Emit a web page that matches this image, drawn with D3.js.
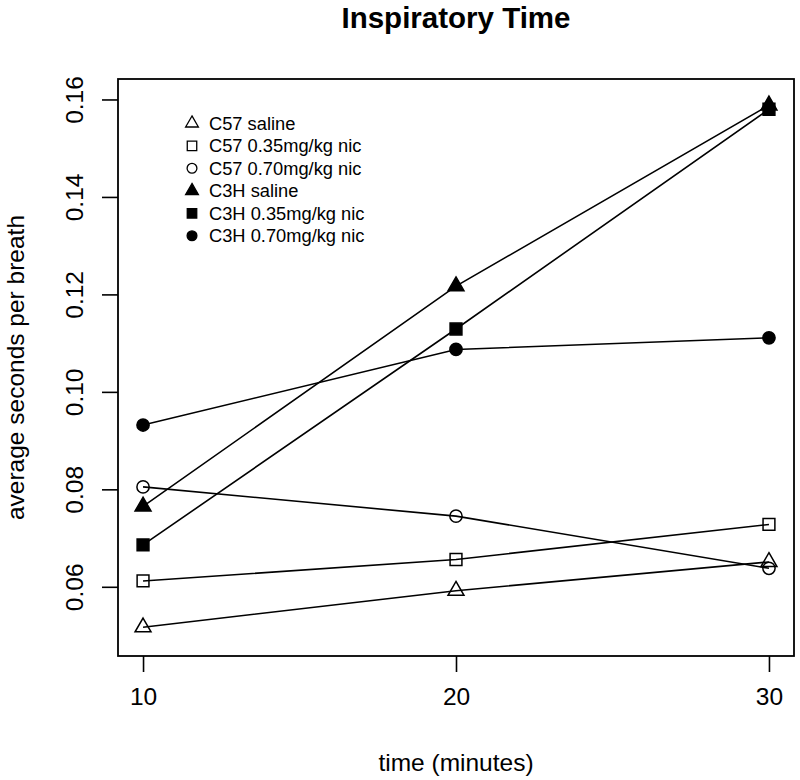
<!DOCTYPE html>
<html>
<head>
<meta charset="utf-8">
<script src="https://cdn.jsdelivr.net/npm/d3@7"></script>
<style>
	body { margin: 0; background: #fff; }
	text { font-family: "Liberation Sans", Arial, Helvetica, sans-serif; fill: #000; }
</style>
</head>
<body>
<div id="chart"></div>
<script>

// ---DATA---//

var times = [ 10, 20, 30 ];
var xTicks = [ 10, 20, 30 ];
var yTicks = [ 0.06, 0.08, 0.10, 0.12, 0.14, 0.16 ];

var seriesNames = [ "C57 saline", "C57 0.35mg/kg nic", "C57 0.70mg/kg nic",
		"C3H saline", "C3H 0.35mg/kg nic", "C3H 0.70mg/kg nic" ];

var c57Saline = [ 0.0517, 0.0592, 0.0651 ];
var c57Low = [ 0.0612, 0.0656, 0.0728 ];
var c57High = [ 0.0805, 0.0745, 0.0638 ];
var c3hSaline = [ 0.0765, 0.1217, 0.1588 ];
var c3hLow = [ 0.0686, 0.1129, 0.1580 ];
var c3hHigh = [ 0.0932, 0.1087, 0.1111 ];

var seriesValues = [ c57Saline, c57Low, c57High, c3hSaline, c3hLow, c3hHigh ];

// marker shape + fill per series (R pch 2, 0, 1, 17, 15, 19)
var seriesShapes = [ "triangle", "square", "circle", "triangle", "square", "circle" ];
var seriesFilled = [ false, false, false, true, true, true ];

// ---LAYOUT---//

var width = 800;
var height = 780;
var margin = {
	left : 118,
	top : 79,
	right : 6,
	bottom : 124
};

var plotW = width - margin.left - margin.right;
var plotH = height - margin.top - margin.bottom;

var x = d3.scaleLinear().domain([ 9.2, 30.8 ]).range([ 0, plotW ]);
var y = d3.scaleLinear().domain([ 0.0458, 0.1642 ]).range([ plotH, 0 ]);

var svg = d3.select("#chart").append("svg") //
.attr("width", width) //
.attr("height", height);

var g = svg.append("g").attr("transform",
		"translate(" + margin.left + "," + margin.top + ")");

// marker path generator
function markerPath(shape, k) {
	var sym;
	var size;
	if (shape == "triangle") {
		sym = d3.symbolTriangle;
		size = 110;
	} else if (shape == "square") {
		sym = d3.symbolSquare;
		size = 140;
	} else {
		sym = d3.symbolCircle;
		size = 118;
	}
	return d3.symbol().type(sym).size(size * k * k)();
}// END: markerPath

// ---SERIES---//

var line = d3.line() //
.x(function(d, i) {
	return x(times[i]);
}) //
.y(function(d) {
	return y(d);
});

seriesValues.forEach(function(values, s) {

	g.append("path") //
	.attr("d", line(values)) //
	.attr("fill", "none") //
	.attr("stroke", "#000") //
	.attr("stroke-width", 1.6);

	g.selectAll(".pt" + s).data(values).enter().append("path") //
	.attr("class", "pt" + s) //
	.attr("d", markerPath(seriesShapes[s], 1)) //
	.attr("transform", function(d, i) {
		return "translate(" + x(times[i]) + "," + y(d) + ")";
	}) //
	.attr("fill", seriesFilled[s] ? "#000" : "none") //
	.attr("stroke", "#000") //
	.attr("stroke-width", 1.5);

});// END: series loop

// ---AXES---//

var xAxis = d3.axisBottom(x).tickValues(xTicks).tickSize(16).tickPadding(16)
		.tickFormat(d3.format("d"));

var xg = g.append("g") //
.attr("transform", "translate(0," + plotH + ")") //
.call(xAxis);

xg.select(".domain").remove();
xg.selectAll("line").attr("stroke-width", 1.6);
xg.selectAll("text").attr("font-size", "24.5px");

var yAxis = d3.axisLeft(y).tickValues(yTicks).tickSize(16).tickFormat(
		d3.format(".2f"));

var yg = g.append("g").call(yAxis);

yg.select(".domain").remove();
yg.selectAll("line").attr("stroke-width", 1.6);
yg.selectAll("text") //
.attr("font-size", "24.5px") //
.attr("x", null) //
.attr("dy", null) //
.attr("text-anchor", "middle") //
.attr("transform", "translate(-35,0) rotate(-90)");

// plot box
g.append("rect") //
.attr("width", plotW) //
.attr("height", plotH) //
.attr("fill", "none") //
.attr("stroke", "#000") //
.attr("stroke-width", 1.8);

// ---LABELS---//

svg.append("text") //
.attr("x", margin.left + plotW / 2) //
.attr("y", 28) //
.attr("text-anchor", "middle") //
.attr("font-size", "29.5px") //
.attr("font-weight", "bold") //
.text("Inspiratory Time");

svg.append("text") //
.attr("x", margin.left + plotW / 2) //
.attr("y", 771) //
.attr("text-anchor", "middle") //
.attr("font-size", "24.5px") //
.text("time (minutes)");

svg.append("text") //
.attr("transform", "translate(24," + (margin.top + plotH / 2) + ") rotate(-90)") //
.attr("text-anchor", "middle") //
.attr("font-size", "24.5px") //
.text("average seconds per breath");

// ---LEGEND---//

var legend = svg.append("g").attr("class", "legend");

var legendRows = legend.selectAll("g").data(seriesNames).enter().append("g") //
.attr("transform", function(d, i) {
	return "translate(192," + (123.3 + i * 22.5) + ")";
});

legendRows.append("path") //
.attr("d", function(d, i) {
	return markerPath(seriesShapes[i], 0.8);
}) //
.attr("fill", function(d, i) {
	return seriesFilled[i] ? "#000" : "none";
}) //
.attr("stroke", "#000") //
.attr("stroke-width", 1.3);

legendRows.append("text") //
.attr("x", 17) //
.attr("dy", "0.36em") //
.attr("font-size", "18.3px") //
.text(function(d) {
	return d;
});

</script>
</body>
</html>
